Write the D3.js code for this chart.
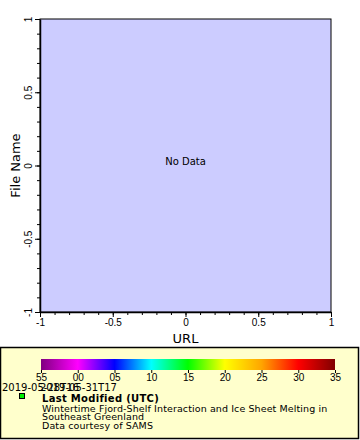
<!DOCTYPE html>
<html>
<head>
<meta charset="utf-8">
<script src="https://cdn.jsdelivr.net/npm/d3@7"></script>
<style>
  body { margin: 0; background: #fff; }
  svg { display: block; font-family: "DejaVu Sans", Verdana, sans-serif; }
</style>
</head>
<body>
<div id="chart"></div>
<script>
// axis domains and ticks
const xDomain = [-1, 1];
const yDomain = [-1, 1];
const majorTicks = [-1, -0.5, 0, 0.5, 1];
const minorTicks = d3.range(-10, 11).map(d => d / 10);

// colour bar
const barLabels = ['55', '00', '05', '10', '15', '20', '25', '30', '35'];
const barColors = ['#800080', '#ff00ff', '#0000ff', '#00ffff', '#00ff00', '#ffff00', '#ffa500', '#ff0000', '#800000'];
const timeLabels = ['2019-05-28T16', '2019-05-31T17'];

// legend
const legendTitle = 'Last Modified (UTC)';
const legendLines = ['Wintertime Fjord-Shelf Interaction and Ice Sheet Melting in', 'Southeast Greenland', 'Data courtesy of SAMS'];

const W = 360, H = 440;
const plot = { left: 40, right: 331, top: 19, bottom: 312 };

const svg = d3.select('#chart').append('svg')
    .attr('width', W)
    .attr('height', H);

svg.append('rect').attr('width', W).attr('height', H).attr('fill', '#fff');

const x = d3.scaleLinear().domain(xDomain).range([plot.left, plot.right]);
const y = d3.scaleLinear().domain(yDomain).range([plot.bottom, plot.top]);

// plot background
svg.append('rect')
    .attr('x', plot.left)
    .attr('y', plot.top)
    .attr('width', plot.right - plot.left)
    .attr('height', plot.bottom - plot.top)
    .attr('fill', '#ccccff')
    .attr('stroke', '#000')
    .attr('stroke-width', 1);

svg.append('text')
    .attr('x', x(0))
    .attr('y', y(0) - 4)
    .attr('text-anchor', 'middle')
    .attr('dominant-baseline', 'middle')
    .style('font-size', '10px')
    .text('No Data');

// minor ticks
svg.append('g')
    .attr('transform', `translate(0,${plot.bottom})`)
    .call(d3.axisBottom(x).tickValues(minorTicks).tickSize(3).tickFormat(''))
    .call(g => g.select('.domain').remove());
svg.append('g')
    .attr('transform', `translate(${plot.left},0)`)
    .call(d3.axisLeft(y).tickValues(minorTicks).tickSize(3).tickFormat(''))
    .call(g => g.select('.domain').remove());

// major ticks
const fmt = d => d3.format('')(d).replace('\u2212', '-');
svg.append('g')
    .attr('transform', `translate(0,${plot.bottom})`)
    .call(d3.axisBottom(x).tickValues(majorTicks).tickSize(5).tickSizeOuter(0).tickFormat(fmt))
    .call(g => g.selectAll('text').style('font-size', '10px').attr('dy', '0.71em').attr('y', 7))
    .call(g => g.select('.domain').attr('stroke-width', 1.5));

svg.append('g')
    .attr('transform', `translate(${plot.left},0)`)
    .call(d3.axisLeft(y).tickValues(majorTicks).tickSize(5).tickSizeOuter(0).tickFormat(fmt))
    .call(g => g.select('.domain').attr('stroke-width', 1.5))
    .call(g => g.selectAll('.tick text')
        .style('font-size', '10px')
        .attr('x', 0).attr('dy', 0)
        .attr('text-anchor', 'middle')
        .attr('transform', 'translate(-8,0) rotate(-90)'));

// axis titles
svg.append('text')
    .attr('x', x(0))
    .attr('y', 343)
    .attr('text-anchor', 'middle')
    .style('font-size', '13px')
    .text('URL');

svg.append('text')
    .attr('transform', `translate(20,${y(0)}) rotate(-90)`)
    .attr('text-anchor', 'middle')
    .style('font-size', '13px')
    .text('File Name');

// legend box
svg.append('rect')
    .attr('x', 0.5)
    .attr('y', 347.5)
    .attr('width', 358)
    .attr('height', 91)
    .attr('fill', '#ffffcc')
    .attr('stroke', '#000')
    .attr('stroke-width', 1.5);

const bar = { left: 41, right: 335, top: 359, bottom: 370 };
const cb = d3.scalePoint().domain(barLabels).range([bar.left, bar.right]);

const grad = svg.append('defs').append('linearGradient')
    .attr('id', 'cbar')
    .attr('x1', '0%').attr('x2', '100%');
grad.selectAll('stop')
    .data(barColors)
    .join('stop')
    .attr('offset', (d, i) => `${(cb(barLabels[i]) - bar.left) / (bar.right - bar.left) * 100}%`)
    .attr('stop-color', d => d);

svg.append('rect')
    .attr('x', bar.left)
    .attr('y', bar.top)
    .attr('width', bar.right - bar.left)
    .attr('height', bar.bottom - bar.top)
    .attr('fill', 'url(#cbar)');

svg.append('g')
    .attr('transform', `translate(0,${bar.bottom})`)
    .call(d3.axisBottom(cb).tickSize(3).tickPadding(1))
    .call(g => g.select('.domain').remove())
    .call(g => g.selectAll('text').style('font-size', '10px').attr('fill', '#000'));

// overlapping time labels under the bar
svg.append('text')
    .attr('x', 2).attr('y', 391)
    .style('font-size', '10px')
    .text(timeLabels[0]);
svg.append('text')
    .attr('x', 40).attr('y', 391)
    .style('font-size', '10px')
    .text(timeLabels[1]);

// legend entry
svg.append('rect')
    .attr('x', 19.5).attr('y', 393.5)
    .attr('width', 5).attr('height', 5)
    .attr('fill', '#00ee00')
    .attr('stroke', '#000');

svg.append('text')
    .attr('x', 42).attr('y', 402)
    .style('font-size', '10px')
    .style('font-weight', 'bold')
    .style('letter-spacing', '0.3px')
    .text(legendTitle);

svg.append('g').selectAll('text')
    .data(legendLines)
    .join('text')
    .attr('x', 42)
    .attr('y', (d, i) => 412 + i * 8.3)
    .style('font-size', '9.5px')
    .style('letter-spacing', '0.1px')
    .text(d => d);
</script>
</body>
</html>
